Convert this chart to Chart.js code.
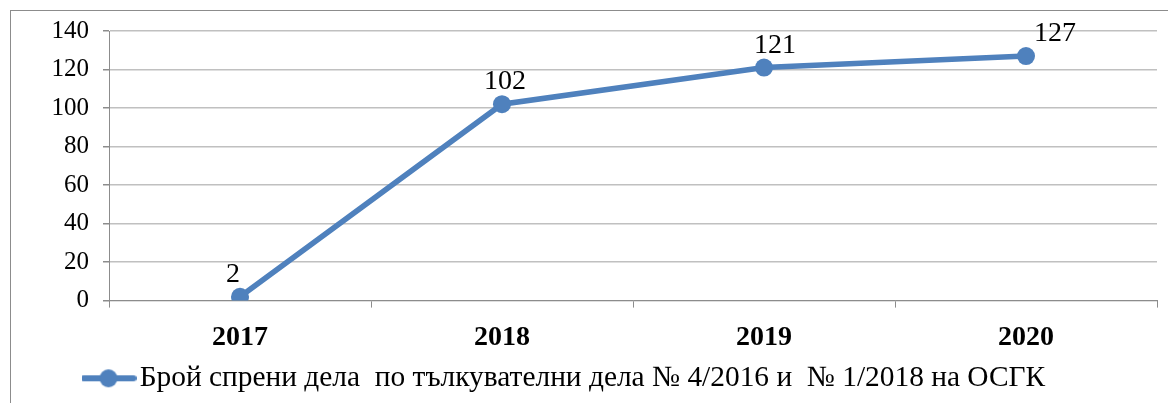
<!DOCTYPE html>
<html>
<head>
<meta charset="utf-8">
<script src="https://cdn.jsdelivr.net/npm/chart.js@4.4.1/dist/chart.umd.min.js"></script>
<style>
  html, body { margin: 0; padding: 0; background: #fff; }
  #wrap { width: 1168px; height: 403px; }
</style>
</head>
<body>
<div id="wrap"><canvas id="chart"></canvas></div>
<script>
const years = ["2017", "2018", "2019", "2020"];
const cases = [2, 102, 121, 127];
const yTicks = [0, 20, 40, 60, 80, 100, 120, 140];
const seriesName = "Брой спрени дела  по тълкувателни дела № 4/2016 и  № 1/2018 на ОСГК";

const blue = "#4F81BD";
const serif = "'Liberation Serif', 'Times New Roman', serif";

// legend sample: line with a marker in the middle
function legendMarker() {
  const c = document.createElement("canvas");
  c.width = 56; c.height = 22;
  const g = c.getContext("2d");
  g.strokeStyle = blue;
  g.lineWidth = 6;
  g.lineCap = "round";
  g.beginPath(); g.moveTo(3, 11); g.lineTo(53, 11); g.stroke();
  g.fillStyle = blue;
  g.beginPath(); g.arc(28, 11, 9, 0, Math.PI * 2); g.fill();
  return c;
}

const labelShift = [-7, 3, 11, 29];

const valueLabels = {
  id: "valueLabels",
  afterDatasetsDraw(chart) {
    const ctx = chart.ctx;
    const meta = chart.getDatasetMeta(0);
    ctx.save();
    ctx.font = "28px " + serif;
    ctx.fillStyle = "#000";
    ctx.textAlign = "center";
    ctx.textBaseline = "alphabetic";
    meta.data.forEach(function(pt, i) {
      ctx.fillText(String(cases[i]), pt.x + labelShift[i], pt.y - 15);
    });
    ctx.restore();
  }
};

const frame = {
  id: "frame",
  beforeDraw(chart) {
    const ctx = chart.ctx;
    ctx.save();
    ctx.strokeStyle = "#8c8c8c";
    ctx.lineWidth = 1;
    ctx.strokeRect(10.5, 10.5, chart.width + 20, chart.height + 20);
    ctx.restore();
  }
};

// move the legend block to where the reference has it
const legendPlace = {
  id: "legendPlace",
  afterLayout(chart) {
    chart.legend.left = 82;
  }
};

new Chart(document.getElementById("chart"), {
  type: "line",
  data: {
    labels: years,
    datasets: [{
      label: seriesName,
      data: cases,
      borderColor: blue,
      backgroundColor: blue,
      borderWidth: 5.5,
      pointRadius: 9,
      pointBackgroundColor: blue,
      pointBorderWidth: 0,
      tension: 0,
      fill: false
    }]
  },
  options: {
    responsive: true,
    maintainAspectRatio: false,
    animation: false,
    layout: {
      padding: { left: 0, right: 11, top: 31, bottom: 0 }
    },
    scales: {
      x: {
        offset: true,
        grid: {
          offset: true,
          drawOnChartArea: false,
          tickLength: 7,
          tickColor: "#8c8c8c"
        },
        border: { color: "#8c8c8c", width: 1 },
        ticks: {
          color: "#000",
          padding: 13,
          font: { family: serif, size: 28, weight: "bold" }
        },
        afterFit: function(scale) { scale.height = 53; }
      },
      y: {
        min: 0,
        max: 140,
        afterBuildTicks: function(scale) {
          scale.ticks = yTicks.map(function(v) { return { value: v }; });
        },
        grid: {
          color: "#c0c0c0",
          lineWidth: 1.5,
          tickLength: 6,
          tickColor: "#8c8c8c"
        },
        border: { color: "#8c8c8c", width: 1 },
        ticks: {
          color: "#000",
          padding: 14,
          font: { family: serif, size: 25 }
        },
        afterFit: function(scale) { scale.width = 109; }
      }
    },
    plugins: {
      legend: {
        position: "bottom",
        align: "start",
        labels: {
          usePointStyle: true,
          pointStyle: legendMarker(),
          pointStyleWidth: 33,
          padding: 10,
          color: "#000",
          font: { family: serif, size: 29.4 }
        }
      },
      tooltip: { enabled: false }
    }
  },
  plugins: [valueLabels, frame, legendPlace]
});
</script>
</body>
</html>
